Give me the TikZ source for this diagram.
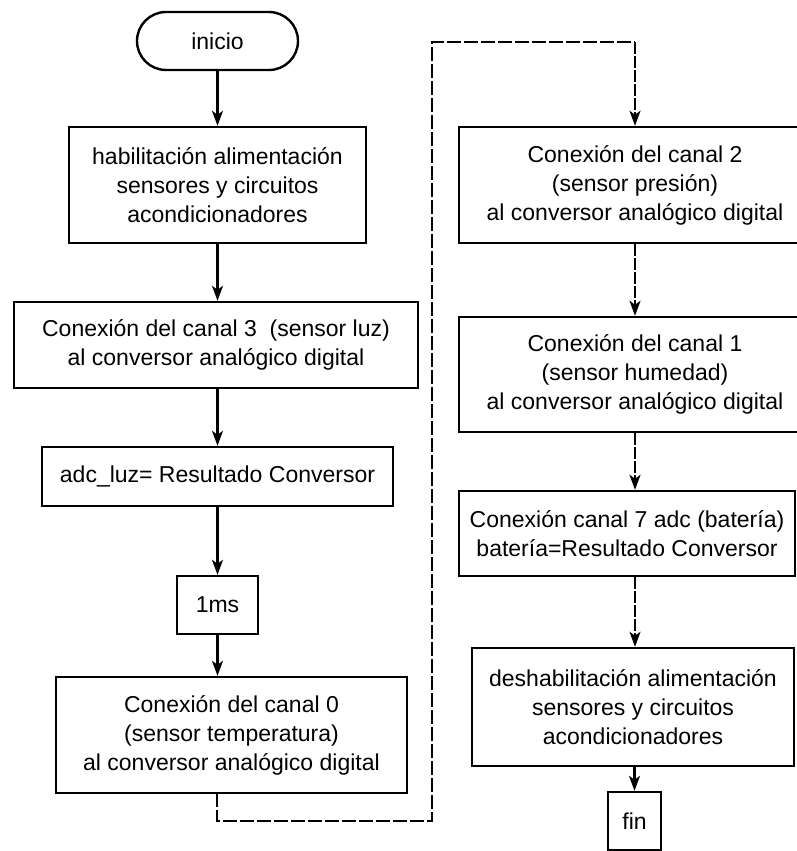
\documentclass[tikz,border=0pt]{standalone}
\usepackage{fontspec}
\setmainfont{Liberation Sans}
\usetikzlibrary{arrows.meta}

\tikzset{
  every node/.style={font=\fontsize{23}{29}\selectfont, align=center, inner sep=0pt},
  procbox/.style={draw, line width=2.4pt, rectangle},
  termbox/.style={draw, line width=2.4pt, rectangle, rounded corners=29pt},
  flow/.style={line width=2.2pt, -{Stealth[length=15pt,width=11pt,inset=4pt]}},
  flowdash/.style={flow, dash pattern=on 12pt off 2pt},
  link/.style={line width=2.2pt, dash pattern=on 14pt off 3pt},
}

\begin{document}
\begin{tikzpicture}[x=1pt,y=-1pt]
  \useasboundingbox (0,0) rectangle (797,851);
  \clip (0,0) rectangle (797,851);

  % left column
  \node[termbox, minimum width=161pt, minimum height=58pt] (inicio) at (217.5,41) {inicio};
  \node[procbox, minimum width=297pt, minimum height=116pt] (hab) at (217.5,185)
    {habilitación alimentación\\sensores y circuitos\\acondicionadores};
  \node[procbox, minimum width=404pt, minimum height=86pt] (c3) at (216,345)
    {Conexión del canal 3\ \ (sensor luz)\\al conversor analógico digital};
  \node[procbox, minimum width=351pt, minimum height=59pt] (adc) at (217.5,476.5)
    {adc\_luz= Resultado Conversor};
  \node[procbox, minimum width=81pt, minimum height=58pt] (ms) at (217.5,605) {1ms};
  \node[procbox, minimum width=351pt, minimum height=116pt] (c0) at (231.5,735)
    {Conexión del canal 0\\(sensor temperatura)\\al conversor analógico digital};

  % right column
  \node[procbox, minimum width=352pt, minimum height=116pt] (c2) at (635,185)
    {Conexión del canal 2\\(sensor presión)\\al conversor analógico digital};
  \node[procbox, minimum width=352pt, minimum height=115pt] (c1) at (635,374.5)
    {Conexión del canal 1\\(sensor humedad)\\al conversor analógico digital};
  \node[procbox, minimum width=336pt, minimum height=85pt] (c7) at (627,533.5)
    {Conexión canal 7 adc (batería)\\batería=Resultado Conversor};
  \node[procbox, minimum width=322pt, minimum height=118pt] (des) at (633,707)
    {deshabilitación alimentación\\sensores y circuitos\\acondicionadores};
  \node[procbox, minimum width=53pt, minimum height=58pt] (fin) at (634.5,821) {fin};

  % connector points of the column change
  \coordinate (out) at (217,793);
  \coordinate (low) at (217,821);
  \coordinate (midlow) at (432,821);
  \coordinate (midtop) at (432,42);
  \coordinate (top) at (635,42);

  % left column arrows
  \draw[flow] (inicio.south) -- (inicio.south |- hab.north);
  \draw[flow] (hab.south) -- (hab.south |- c3.north);
  \draw[flow] (217.5,388) -- (adc.north);
  \draw[flow] (adc.south) -- (ms.north);
  \draw[flow] (ms.south) -- (ms.south |- c0.north);

  % link to the right column
  \draw[link] (out) -- (low) -- (midlow) -- (midtop) -- (top);
  \draw[flowdash] (top) -- (top |- c2.north);

  % right column arrows
  \draw[flowdash] (c2.south) -- (c1.north);
  \draw[flowdash] (c1.south) -- (c1.south |- c7.north);
  \draw[flowdash] (c1.south |- c7.south) -- (c1.south |- des.north);
  \draw[flow] (fin.north |- des.south) -- (fin.north);
\end{tikzpicture}
\end{document}
